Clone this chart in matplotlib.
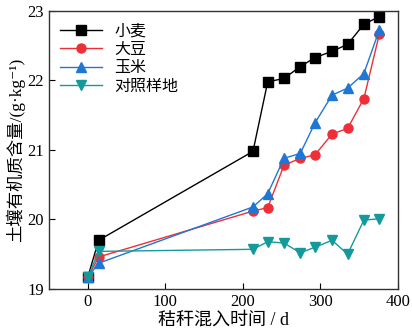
import matplotlib
matplotlib.use("Agg")
import matplotlib.pyplot as plt

plt.rcParams['font.family'] = ['Liberation Serif', 'Noto Sans CJK SC', 'DejaVu Serif']

days = [0, 14, 213, 232, 253, 274, 293, 315, 335, 356, 376]
wheat = [19.17, 19.70, 20.98, 21.98, 22.03, 22.20, 22.33, 22.42, 22.52, 22.81, 22.92]
soybean = [19.17, 19.46, 20.12, 20.17, 20.78, 20.88, 20.93, 21.23, 21.31, 21.74, 22.67]
corn = [19.17, 19.37, 20.18, 20.37, 20.88, 20.95, 21.39, 21.79, 21.89, 22.10, 22.73]
control = [19.17, 19.54, 19.57, 19.68, 19.66, 19.52, 19.60, 19.70, 19.50, 19.99, 20.01]

series = [
    ("小麦", wheat, "black", "s"),
    ("大豆", soybean, "#ee2f38", "o"),
    ("玉米", corn, "#1f77d4", "^"),
    ("对照样地", control, "#159a9c", "v"),
]

fig = plt.figure(figsize=(4.12, 3.34), dpi=100)
ax = fig.add_axes([0.119, 0.135, 0.847, 0.832])

for name, vals, c, m in series:
    ax.plot(days, vals, color=c, marker=m, markersize=6.5, linewidth=1.0, label=name)

ax.set_xlim(-50, 400)
ax.set_ylim(19, 23)
ax.set_xticks([0, 100, 200, 300, 400])
ax.set_yticks([19, 20, 21, 22, 23])
ax.tick_params(direction='in', labelsize=12, length=4, width=0.8)
for s in ax.spines.values():
    s.set_linewidth(1.0)
    s.set_color('#333333')

ax.set_xlabel("秸秆混入时间 / d", fontsize=13, labelpad=1)
ax.set_ylabel("土壤有机质含量/(g·kg⁻¹)", fontsize=12.5, labelpad=2)

ax.legend(loc='upper left', frameon=False, handlelength=2.6,
          borderaxespad=0.3, labelspacing=0.1, handletextpad=0.8,
          prop={'family': ['Noto Sans CJK SC'], 'size': 11.5})

fig.savefig("out.png", dpi=100)
